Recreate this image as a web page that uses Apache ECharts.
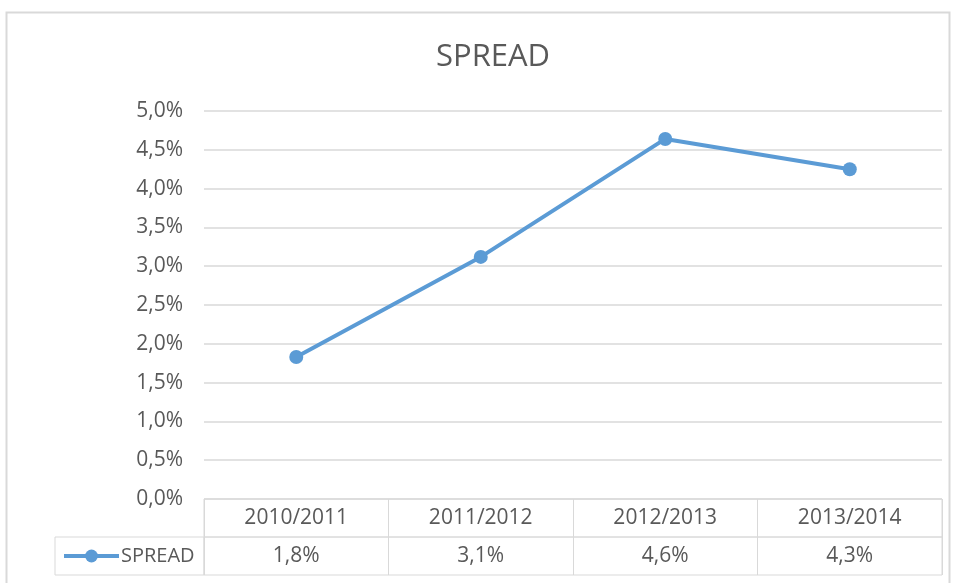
<!DOCTYPE html>
<html>
<head>
<meta charset="utf-8">
<script src="https://cdn.jsdelivr.net/npm/echarts@6/dist/echarts.min.js"></script>
<style>html,body{margin:0;padding:0;background:#fff}#c{width:958px;height:583px}</style>
</head>
<body>
<div id="c"></div>
<script>
var categories = ['2010/2011', '2011/2012', '2012/2013', '2013/2014'];
var spread = [1.83, 3.12, 4.64, 4.25];
var seriesName = 'SPREAD';
var yTicks = { min: 0, max: 5, interval: 0.5 };

function pct(v, d) { return v.toFixed(d).replace('.', ',') + '%'; }

var TXT = '#595959', GRID = '#d9d9d9', BLUE = '#5B9BD5', FONT = 'Open Sans';

var chart = echarts.init(document.getElementById('c'));
chart.setOption({
  animation: false,
  textStyle: { fontFamily: FONT },
  title: {
    text: 'SPREAD', left: 431, top: 37,
    textStyle: { fontFamily: FONT, fontSize: 31, fontWeight: 'normal', color: TXT }
  },
  legend: {
    data: [seriesName], left: 62, top: 546, padding: 0, itemWidth: 55, itemHeight: 16, itemGap: 0,
    lineStyle: { width: 4 },
    textStyle: { fontFamily: FONT, fontSize: 20, color: TXT, padding: [0, 0, 0, -3] }
  },
  graphic: [{
    type: 'rect', shape: { x: 6.5, y: 12.5, width: 943, height: 600 },
    style: { fill: 'none', stroke: GRID, lineWidth: 2 }, silent: true, z: -1
  }],
  grid: [
    { left: 204, right: 16, top: 111, bottom: 84 },
    { left: 204, right: 16, top: 499, height: 38, show: true, borderColor: GRID, borderWidth: 1 },
    { left: 204, right: 16, top: 537, height: 38, show: true, borderColor: GRID, borderWidth: 1 },
    { left: 55, width: 149, top: 537, height: 38, show: true, borderColor: GRID, borderWidth: 1 }
  ],
  xAxis: [
    { type: 'category', gridIndex: 0, data: categories, boundaryGap: true,
      axisLine: { show: false }, axisTick: { show: false }, axisLabel: { show: false }, splitLine: { show: false } },
    { type: 'category', gridIndex: 1, data: categories, boundaryGap: true,
      axisLine: { show: false }, axisTick: { show: false },
      splitLine: { show: true, lineStyle: { color: GRID, width: 1 } },
      axisLabel: { margin: -19, verticalAlign: 'middle', fontFamily: FONT, fontSize: 21, color: TXT } },
    { type: 'category', gridIndex: 2, data: categories, boundaryGap: true,
      axisLine: { show: false }, axisTick: { show: false },
      splitLine: { show: true, lineStyle: { color: GRID, width: 1 } },
      axisLabel: { margin: -19, verticalAlign: 'middle', fontFamily: FONT, fontSize: 21, color: TXT,
        formatter: function (v, i) { return pct(spread[i], 1); } } },
    { type: 'value', gridIndex: 3, show: false }
  ],
  yAxis: [
    { type: 'value', gridIndex: 0, min: yTicks.min, max: yTicks.max, interval: yTicks.interval,
      axisLine: { show: false }, axisTick: { show: false },
      splitLine: { show: true, lineStyle: { color: GRID, width: 1.5 } },
      axisLabel: { margin: 21, fontFamily: FONT, fontSize: 21, color: TXT,
        formatter: function (v) { return pct(v, 1); } } },
    { type: 'value', gridIndex: 1, show: false, min: 0, max: 1, splitLine: { show: false } },
    { type: 'value', gridIndex: 2, show: false, min: 0, max: 1, splitLine: { show: false } },
    { type: 'value', gridIndex: 3, show: false, min: 0, max: 1, splitLine: { show: false } }
  ],
  series: [{
    name: seriesName, type: 'line', xAxisIndex: 0, yAxisIndex: 0, data: spread,
    symbol: 'circle', symbolSize: 14,
    lineStyle: { color: BLUE, width: 4 }, itemStyle: { color: BLUE }
  }]
});
</script>
</body>
</html>
